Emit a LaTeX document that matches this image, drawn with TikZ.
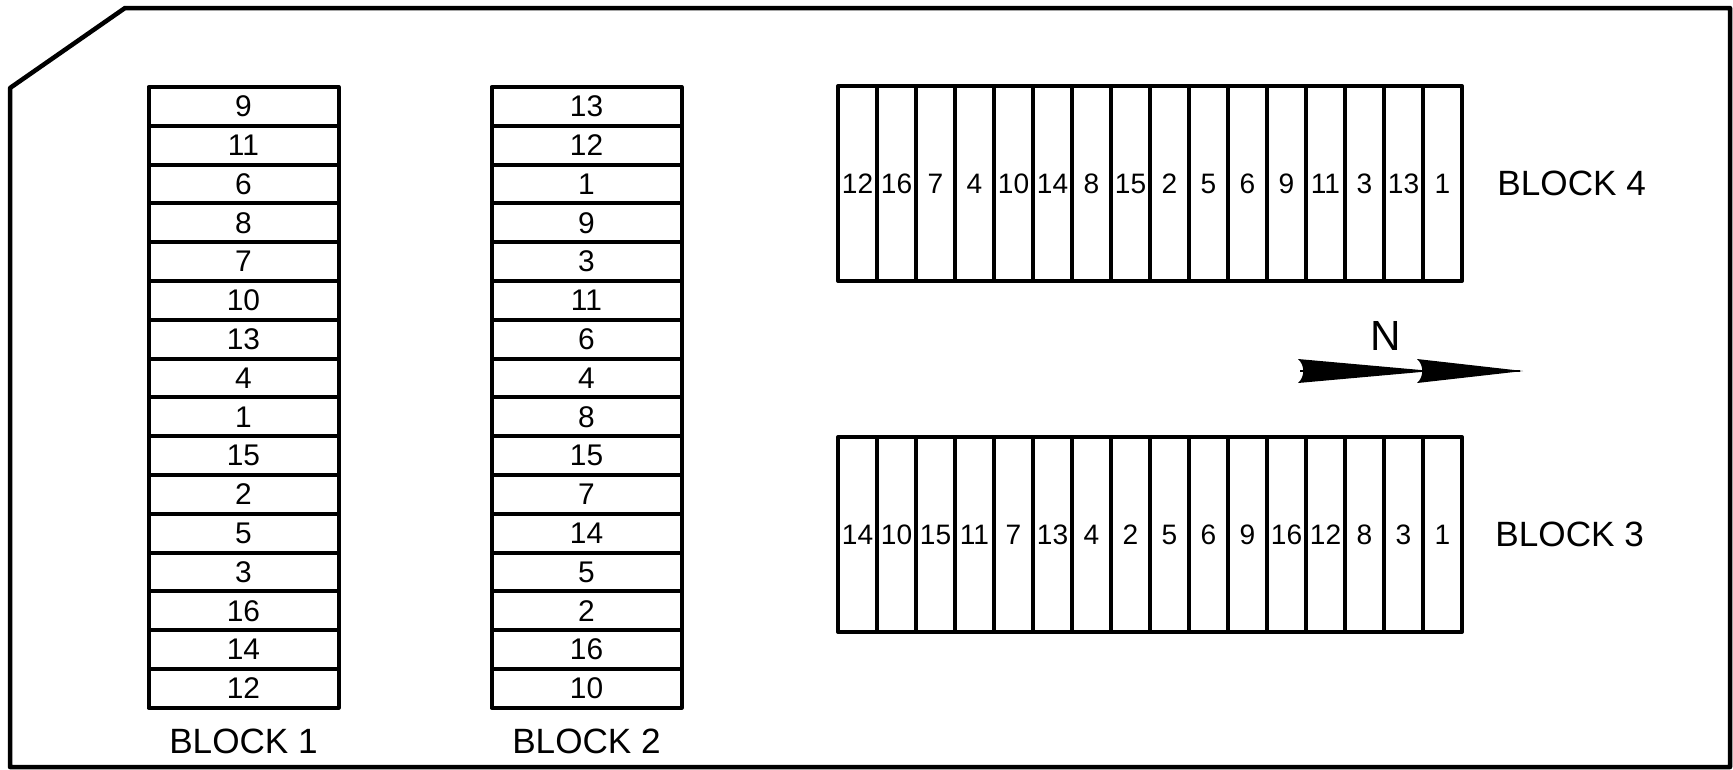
\documentclass[tikz,border=0pt]{standalone}
\usepackage{fontspec}
\setmainfont{Liberation Sans}
\usetikzlibrary{positioning}

\begin{document}
\begin{tikzpicture}[x=0.1mm, y=-0.1mm, line join=round,
    plotrow/.style={draw, line width=0.4mm, minimum width=19mm, minimum height=3.88mm,
        inner sep=0pt, font=\fontsize{8.5}{10}\selectfont},
    plotcol/.style={draw, line width=0.4mm, minimum width=3.9mm, minimum height=19.5mm,
        inner sep=0pt, font=\fontsize{8}{9}\selectfont},
    blocklabel/.style={font=\fontsize{10}{12}\selectfont}]

    % --- Page frame (cut corner at top left) ---
    \useasboundingbox (0,0) rectangle (1733,769);
    \draw[line width=0.45mm] (125,8) -- (1730,8) -- (1730,767) -- (10,767) -- (10,88) -- cycle;

    % --- 1. Block 1 and Block 2 (plots stacked top to bottom) ---
    \foreach \n [count=\i] in {9,11,6,8,7,10,13,4,1,15,2,5,3,16,14,12} {
        \node[plotrow] (b1-\i) at (243.5, {87+38.8*(\i-0.5)}) {\n};
    }
    \foreach \n [count=\i] in {13,12,1,9,3,11,6,4,8,15,7,14,5,2,16,10} {
        \node[plotrow] (b2-\i) at (586.5, {87+38.8*(\i-0.5)}) {\n};
    }

    % --- 2. Block 4 and Block 3 (plots side by side) ---
    \foreach \n [count=\i] in {12,16,7,4,10,14,8,15,2,5,6,9,11,3,13,1} {
        \node[plotcol] (b4-\i) at ({838+39*(\i-0.5)}, 183.5) {\n};
    }
    \foreach \n [count=\i] in {14,10,15,11,7,13,4,2,5,6,9,16,12,8,3,1} {
        \node[plotcol] (b3-\i) at ({838+39*(\i-0.5)}, 534.5) {\n};
    }

    % --- 3. Block labels ---
    \node[blocklabel, below=0.7mm of b1-16] (lb1) {BLOCK 1};
    \node[blocklabel, below=0.7mm of b2-16] (lb2) {BLOCK 2};
    \node[blocklabel, right=2.1mm of b4-16] (lb4) {BLOCK 4};
    \node[blocklabel, right=1.9mm of b3-16] (lb3) {BLOCK 3};

    % --- 4. North arrow ---
    \node[font=\fontsize{12}{14}\selectfont] (north) at (1386,336) {N};
    \draw[line width=0.2mm] (1300,371) -- (1520,371);
    \foreach \x/\tip in {1298/1432, 1417/1523} {
        \fill (\x,359) -- (\tip,371) -- (\x,383) .. controls (\x+7,377) and (\x+7,365) .. (\x,359) -- cycle;
    }

\end{tikzpicture}
\end{document}
